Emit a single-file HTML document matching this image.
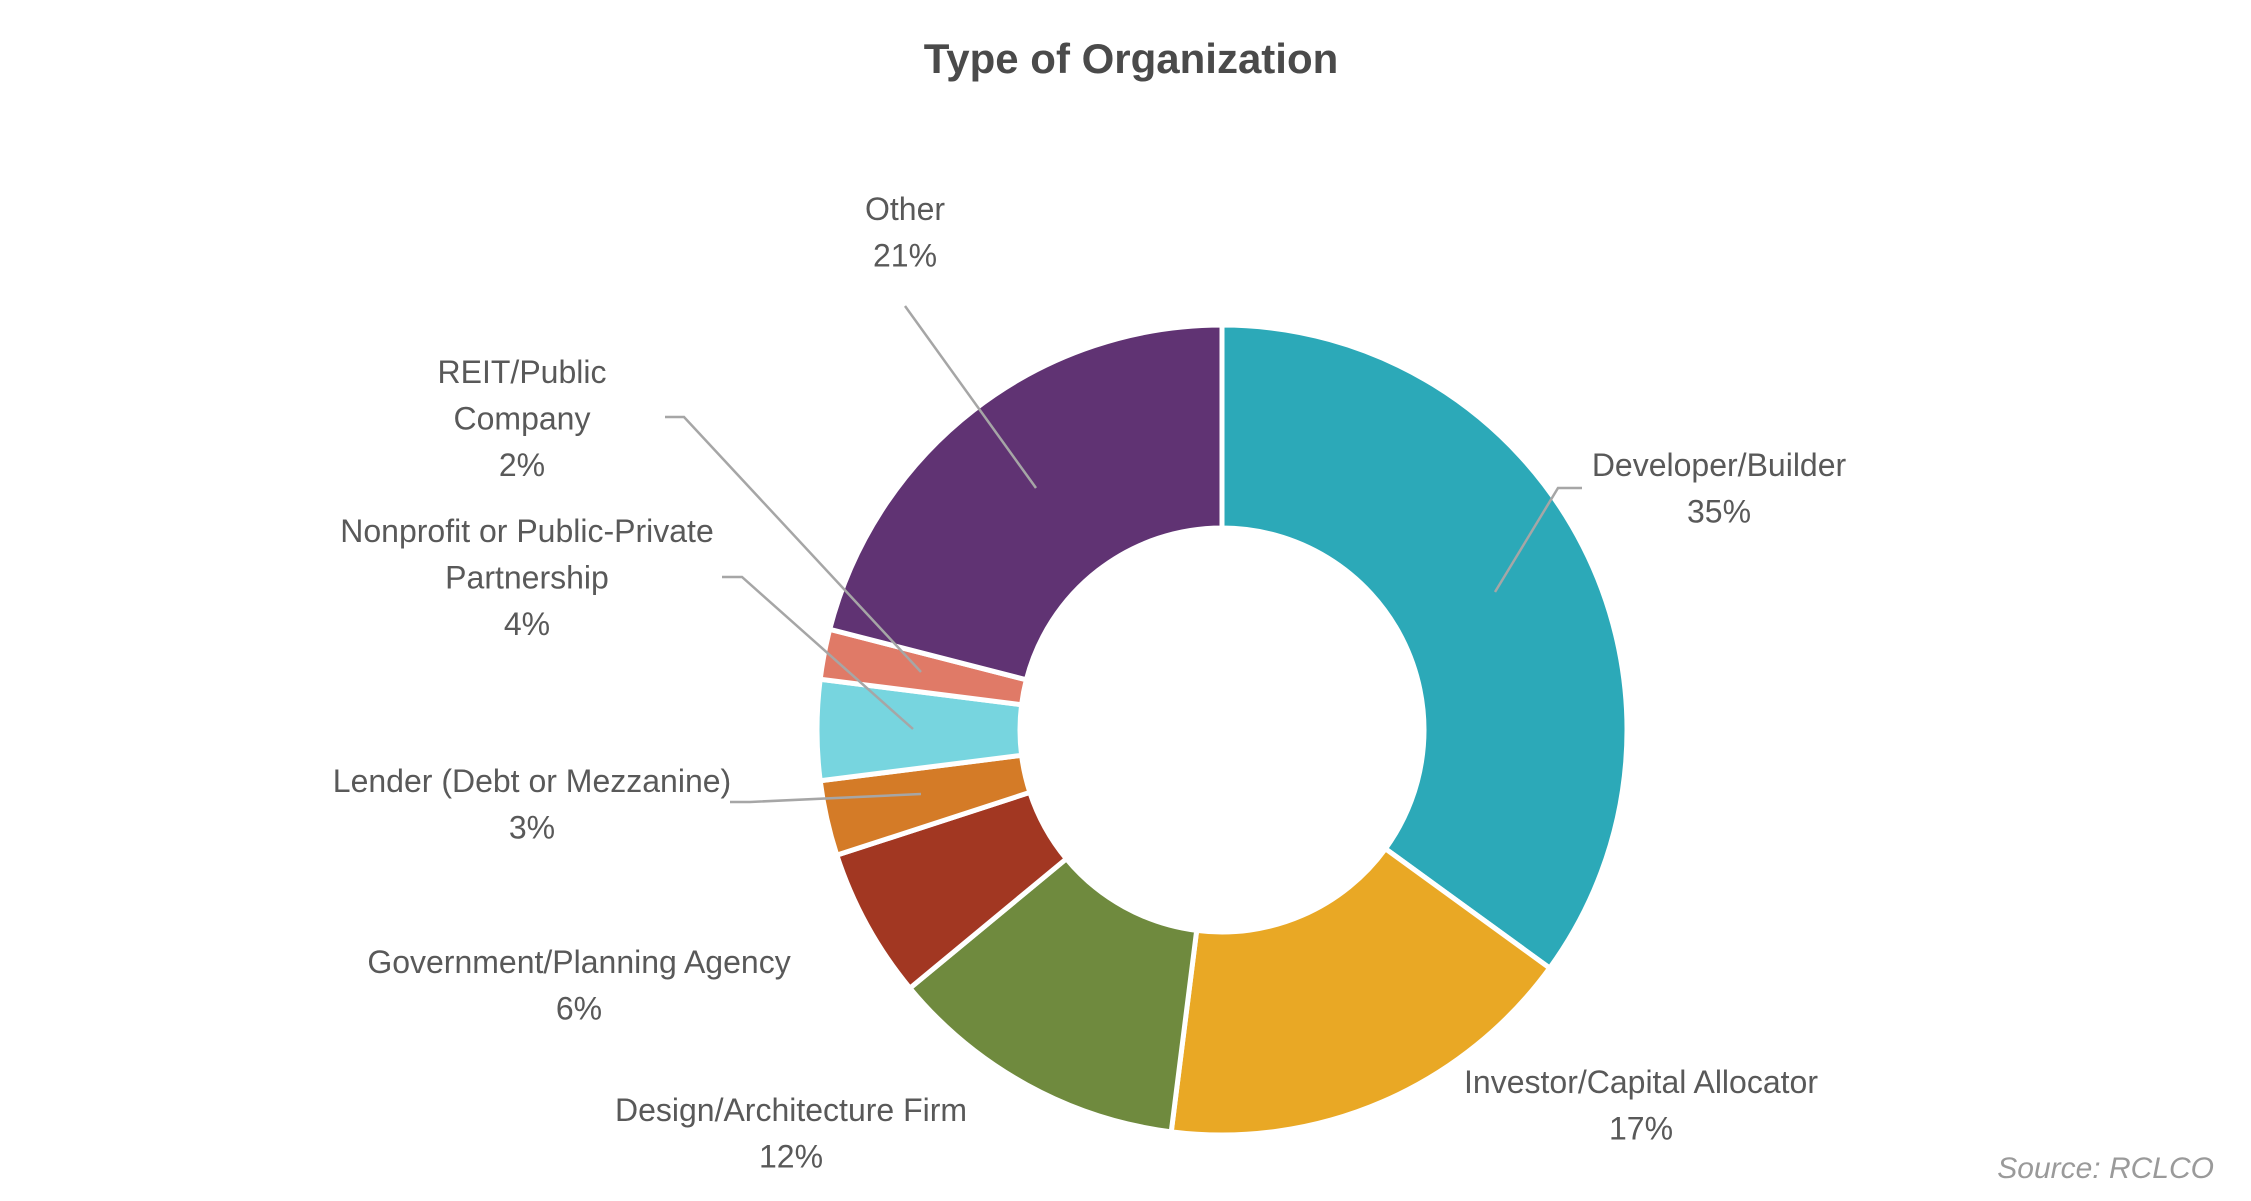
<!DOCTYPE html>
<html><head><meta charset="utf-8"><style>
html,body{margin:0;padding:0;background:#fff;}
svg{display:block;}
text{font-family:"Liberation Sans Narrow","Liberation Sans",sans-serif;fill:#595959;}
</style></head><body>
<svg id="chart" width="2251" height="1201" viewBox="0 0 2251 1201">
<text x="1131" y="73" text-anchor="middle" font-size="42" font-weight="bold" fill="#4a4a4a" style="fill:#4a4a4a">Type of Organization</text>
<g id="slices"></g>
<g id="leaders" stroke="#a6a6a6" stroke-width="2.5" fill="none"></g>
<g id="labels"></g>
<text x="2214" y="1178" text-anchor="end" font-size="30" font-style="italic" style="fill:#9a9a9a">Source: RCLCO</text>
</svg>
<script>
const categories = ["Developer/Builder","Investor/Capital Allocator","Design/Architecture Firm","Government/Planning Agency","Lender (Debt or Mezzanine)","Nonprofit or Public-Private Partnership","REIT/Public Company","Other"];
const values = [35,17,12,6,3,4,2,21];
const colors = ["#2ca9b8","#e9a825","#6f8a3e","#a23722","#d47b27","#77d5df","#e07a67","#603373"];
const labelLines = [["Developer/Builder"],["Investor/Capital Allocator"],["Design/Architecture Firm"],["Government/Planning Agency"],["Lender (Debt or Mezzanine)"],["Nonprofit or Public-Private","Partnership"],["REIT/Public","Company"],["Other"]];
const labelPos = [[1719,465],[1641,1082],[791,1110],[579,962],[532,781],[527,531],[522,372],[905,209]];
const leaderPts = [[[1582,488],[1558,488],[1495,592]],null,null,null,[[730,802],[750,802],[921,794]],[[722,577],[742,577],[913,729]],[[665,417],[684,417],[921,672]],[[905,306],[1036,488]]];
const NS="http://www.w3.org/2000/svg";
const cx=1222, cy=730, R=405, r=202;
const total=values.reduce((a,b)=>a+b,0);
function pt(a,rad){return [cx+rad*Math.sin(a), cy-rad*Math.cos(a)];}
let acc=0;
const gS=document.getElementById('slices'), gL=document.getElementById('leaders'), gT=document.getElementById('labels');
values.forEach((v,i)=>{
  const a0=acc/total*2*Math.PI; acc+=v; const a1=acc/total*2*Math.PI;
  const large=(a1-a0)>Math.PI?1:0;
  const p0=pt(a0,R),p1=pt(a1,R),q1=pt(a1,r),q0=pt(a0,r);
  const p=document.createElementNS(NS,'path');
  p.setAttribute('d',`M${p0}A${R},${R} 0 ${large} 1 ${p1}L${q1}A${r},${r} 0 ${large} 0 ${q0}Z`);
  p.setAttribute('fill',colors[i]); p.setAttribute('stroke','#fff'); p.setAttribute('stroke-width','5');
  
  
  gS.appendChild(p);
  const lines=labelLines[i].concat([v+'%']);
  const t=document.createElementNS(NS,'text');
  
  
  t.setAttribute('text-anchor','middle'); t.setAttribute('font-size','32');
  lines.forEach((s,k)=>{const ts=document.createElementNS(NS,'tspan');ts.setAttribute('x',labelPos[i][0]);ts.setAttribute('y',labelPos[i][1]+11+k*46.5);ts.textContent=s;t.appendChild(ts);});
  gT.appendChild(t);
  if(leaderPts[i]){const l=document.createElementNS(NS,'polyline');
    l.setAttribute('points',leaderPts[i].map(q=>q.join(',')).join(' '));
    
    
    gL.appendChild(l);}
});
</script>
</body></html>
